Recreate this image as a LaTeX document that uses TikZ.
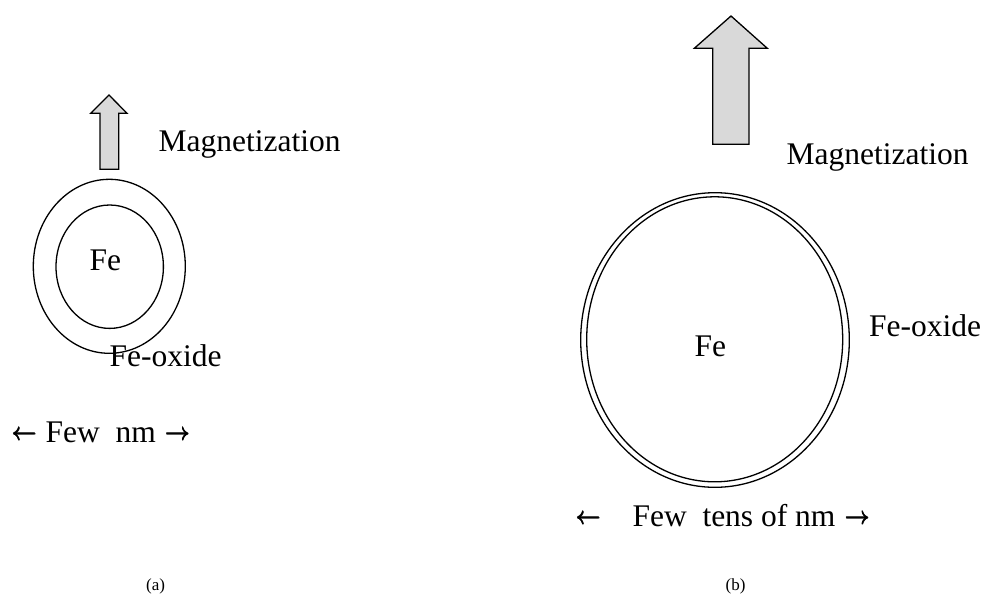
\documentclass[tikz,border=0pt]{standalone}
\usepackage{fontspec}
\setmainfont{Liberation Serif}
\newcommand{\thickglyph}[1]{\rlap{\raisebox{0.6pt}{#1}}\rlap{\raisebox{-0.6pt}{#1}}\rlap{\kern0.7pt#1}#1}
\newcommand{\la}{\raisebox{2.5pt}{\fontsize{28}{30}\selectfont\thickglyph{$\leftarrow$}}}
\newcommand{\ra}{\raisebox{2.5pt}{\fontsize{28}{30}\selectfont\thickglyph{$\rightarrow$}}}
\begin{document}
\begin{tikzpicture}[x=1pt,y=-1pt, line width=1.3pt,
  lbl/.style={font=\fontsize{31.5}{38}\selectfont, inner sep=0pt, anchor=base west},
  figcap/.style={font=\fontsize{17}{20}\selectfont, inner sep=0pt, anchor=base west},
  magarrow/.style={draw, fill=black!15, line join=miter},
  shell/.style={draw}]
\useasboundingbox (0,0) rectangle (984,595);
% ---------- (a) ----------
\draw[magarrow] (109,95) -- (127,113.3) -- (118.7,113.3) -- (118.7,169.3)
  -- (100,169.3) -- (100,113.3) -- (90.7,113.3) -- cycle;
\node[lbl] (magA) at (158,151.7) {Magnetization};
\draw[shell] (109.3,266.3) ellipse [x radius=76, y radius=87];
\draw[shell] (109.7,266.7) ellipse [x radius=53.7, y radius=61.7];
\node[lbl] (feA) at (89,270.7) {Fe};
\node[lbl] (oxA) at (109,366.7) {Fe-oxide};
\node[lbl] (sizeA) at (11,442.7) {\la\hspace{9pt}Few\ \ nm\hspace{9pt}\ra};
\node[figcap] (capA) at (145.5,590) {(a)};
% ---------- (b) ----------
\draw[magarrow] (731,16) -- (767.3,48.3) -- (749,48.3) -- (749,144.3)
  -- (712.7,144.3) -- (712.7,48.3) -- (694.3,48.3) -- cycle;
\node[lbl] (magB) at (786,164) {Magnetization};
\draw[shell] (715,340) ellipse [x radius=134.3, y radius=147.3];
\draw[shell] (714.7,339.3) ellipse [x radius=128, y radius=142.5];
\node[lbl] (feB) at (694,356.7) {Fe};
\node[lbl] (oxB) at (868.5,336.7) {Fe-oxide};
\node[lbl] (sizeB) at (575,526.7) {\la\hspace{32pt}Few\ \ tens of nm\hspace{9pt}\ra};
\node[figcap] (capB) at (725,590) {(b)};
\end{tikzpicture}
\end{document}
